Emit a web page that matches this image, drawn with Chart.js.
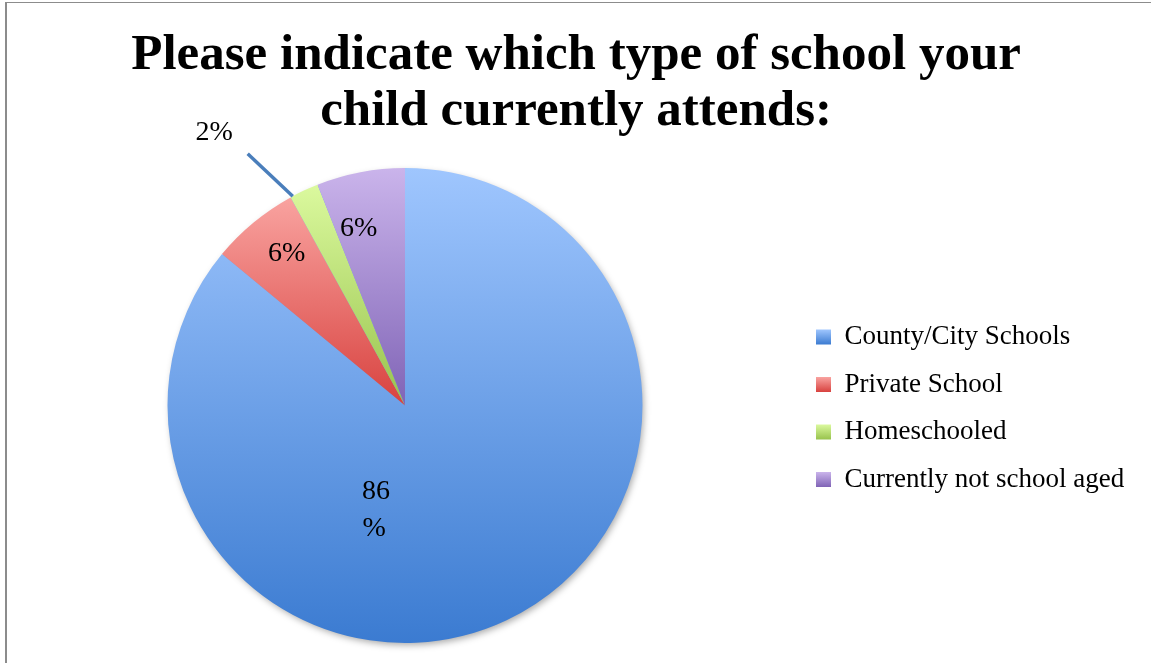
<!DOCTYPE html>
<html>
<head>
<meta charset="utf-8">
<script src="https://cdn.jsdelivr.net/npm/chart.js@4.4.0/dist/chart.umd.min.js"></script>
<style>
    html, body { margin: 0; padding: 0; background: #fff; overflow: hidden; }
    #frame { position: absolute; left: 5px; top: 2px; width: 1144px; height: 660px;
             border-left: 2px solid #8c8c8c; border-top: 1px solid #8c8c8c; }
    #myPie { position: absolute; left: 0; top: 0; }
</style>
</head>
<body>
<div id="frame"></div>
<canvas id="myPie" width="1153" height="671"></canvas>
<script>
// Data
var categories = ['County/City Schools', 'Private School', 'Homeschooled', 'Currently not school aged'];
var percents = [86, 6, 2, 6];
var valueLabels = [['86', '%'], ['6%'], ['2%'], ['6%']];

// Slice colours: light at the top of each slice, dark at the bottom
var topColors = ['#9fc6fe', '#f9a3a0', '#dbf99e', '#cab4eb'];
var bottomColors = ['#3b7bd1', '#d8423f', '#98c34d', '#8064b6'];
var midColors = ['#6fa0e8', '#ea716e', '#bade76', '#a88dd2'];

// where each value label sits: [fraction of radius, angle in degrees]
var labelPolar = [[0.456, 105.5], [0.81, 232], [1.40, 235], [0.77, 255.3]];
var leaderFrom = [1.0, 241.8];
var leaderTo = [1.25, 238];

var labelFont = '28px "Liberation Serif"';
var legendFontSize = 27;
var legendPad = 24;

// work out how wide the legend will be so the pie ends up centred at x=405
var measureCtx = document.createElement('canvas').getContext('2d');
measureCtx.font = legendFontSize + 'px "Liberation Serif"';
var maxText = Math.max.apply(null, categories.map(t => measureCtx.measureText(t).width));
var legendWidth = legendPad + 15 + legendFontSize / 2 + maxText + 10;
var legendLeft = 792;
var rightPad = 1153 - legendLeft - legendWidth;

function polar(arc, f, deg) {
    var a = deg * Math.PI / 180;
    return { x: arc.x + f * arc.outerRadius * Math.cos(a), y: arc.y + f * arc.outerRadius * Math.sin(a) };
}

var slicePlugin = {
    id: 'sliceLook',
    beforeDraw: function (chart) {
        // gradient legend boxes
        var legend = chart.legend;
        if (!legend || !legend.legendHitBoxes) return;
        legend.legendItems.forEach(function (item, i) {
            var hb = legend.legendHitBoxes[i];
            var y0 = hb.top + (legendFontSize - 15) / 2;
            var g = chart.ctx.createLinearGradient(0, y0, 0, y0 + 15);
            g.addColorStop(0, topColors[i]);
            g.addColorStop(1, bottomColors[i]);
            item.fillStyle = g;
        });
    },
    beforeDatasetsDraw: function (chart) {
        var ctx = chart.ctx;
        var meta = chart.getDatasetMeta(0);
        var first = meta.data[0];

        // soft shadow under the whole pie
        ctx.save();
        ctx.shadowColor = 'rgba(0,0,0,0.35)';
        ctx.shadowBlur = 7;
        ctx.shadowOffsetX = 2;
        ctx.shadowOffsetY = 3;
        ctx.beginPath();
        ctx.arc(first.x, first.y, first.outerRadius - 1, 0, Math.PI * 2);
        ctx.fillStyle = '#6fa0e8';
        ctx.fill();
        ctx.restore();

        // each slice gets a vertical gradient over its own height
        meta.data.forEach(function (arc, i) {
            var ys = [arc.y];
            for (var k = 0; k <= 40; k++) {
                var a = arc.startAngle + (arc.endAngle - arc.startAngle) * k / 40;
                ys.push(arc.y + arc.outerRadius * Math.sin(a));
            }
            var y0 = Math.min.apply(null, ys);
            var y1 = Math.max.apply(null, ys);
            var g = ctx.createLinearGradient(0, y0, 0, y1);
            g.addColorStop(0, topColors[i]);
            g.addColorStop(1, bottomColors[i]);
            arc.options = Object.assign({}, arc.options, { backgroundColor: g, borderColor: g });
        });
    },
    afterDatasetsDraw: function (chart) {
        var ctx = chart.ctx;
        var meta = chart.getDatasetMeta(0);
        var arc = meta.data[0];

        // leader line for the small slice
        var p0 = polar(arc, leaderFrom[0], leaderFrom[1]);
        var p1 = polar(arc, leaderTo[0], leaderTo[1]);
        ctx.save();
        ctx.strokeStyle = '#4a7ebb';
        ctx.lineWidth = 3.5;
        ctx.beginPath();
        ctx.moveTo(p0.x, p0.y);
        ctx.lineTo(p1.x, p1.y);
        ctx.stroke();

        ctx.font = labelFont;
        ctx.fillStyle = '#000';
        ctx.textAlign = 'center';
        ctx.textBaseline = 'middle';
        valueLabels.forEach(function (lines, i) {
            var p = polar(arc, labelPolar[i][0], labelPolar[i][1]);
            var startY = p.y - (lines.length - 1) * 37 / 2;
            lines.forEach(function (t, j) {
                ctx.fillText(t, p.x - j * 2, startY + j * 37);
            });
        });
        ctx.restore();
    }
};

var ctx = document.getElementById('myPie').getContext('2d');
var schoolChart = new Chart(ctx, {
    type: 'pie',
    data: {
        labels: categories,
        datasets: [{
            data: percents,
            backgroundColor: midColors,
            borderWidth: 0
        }]
    },
    options: {
        responsive: false,
        animation: false,
        devicePixelRatio: 1,
        layout: {
            padding: { left: 18, right: rightPad, top: 3, bottom: 28 }
        },
        plugins: {
            title: {
                display: true,
                text: ['Please indicate which type of school your', 'child currently attends:'],
                color: '#000',
                font: { family: 'Liberation Serif', size: 51, weight: 'bold', lineHeight: 1.1 },
                padding: { top: 25, bottom: 27.8 }
            },
            legend: {
                position: 'right',
                title: {
                    // empty title only used to push the items down beside the pie
                    display: true,
                    text: '',
                    font: { size: 10, lineHeight: 16.7 },
                    padding: 0
                },
                labels: {
                    boxWidth: 15,
                    boxHeight: 15,
                    padding: legendPad,
                    color: '#000',
                    font: { family: 'Liberation Serif', size: legendFontSize, lineHeight: 0.87 },
                    generateLabels: function (chart) {
                        return categories.map(function (name, i) {
                            return {
                                text: [name],
                                fillStyle: midColors[i],
                                strokeStyle: midColors[i],
                                lineWidth: 0,
                                fontColor: '#000',
                                hidden: false,
                                index: i
                            };
                        });
                    }
                }
            },
            tooltip: { enabled: false }
        }
    },
    plugins: [slicePlugin]
});
</script>
</body>
</html>
